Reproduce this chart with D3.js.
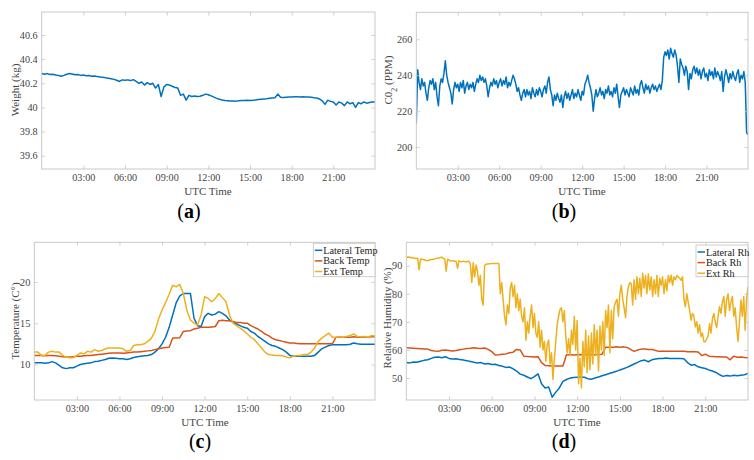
<!DOCTYPE html>
<html><head><meta charset="utf-8">
<script src="https://cdn.jsdelivr.net/npm/d3@7"></script>
<style>body{margin:0;background:#fff}svg{display:block}text{font-family:'Liberation Serif','Times New Roman',serif}</style>
</head><body>
<svg id="chart" width="754" height="460"></svg>
<script>
// ---------- tick labels ----------
const hourTicks = [3, 6, 9, 12, 15, 18, 21];
const hourTickLabels = ["03:00", "06:00", "09:00", "12:00", "15:00", "18:00", "21:00"];
const weightTicks = [39.6, 39.8, 40, 40.2, 40.4, 40.6];
const weightTickLabels = ["39.6", "39.8", "40", "40.2", "40.4", "40.6"];
const co2Ticks = [200, 220, 240, 260];
const co2TickLabels = ["200", "220", "240", "260"];
const tempTicks = [10, 15, 20];
const tempTickLabels = ["10", "15", "20"];
const rhTicks = [50, 60, 70, 80, 90];
const rhTickLabels = ["50", "60", "70", "80", "90"];

// ---------- series ----------
// weight (kg), every 0.2 h
const weightKg = [
40.28,40.275,40.28,40.272,40.275,40.268,40.265,40.258,40.265,40.275,
40.28,40.276,40.27,40.272,40.265,40.268,40.262,40.264,40.258,40.26,
40.255,40.252,40.25,40.245,40.242,40.238,40.232,40.225,40.215,40.228,
40.225,40.228,40.222,40.23,40.215,40.2,40.21,40.185,40.205,40.19,
40.2,40.16,40.19,40.09,40.17,40.19,40.185,40.175,40.165,40.16,
40.1,40.11,40.06,40.1,40.09,40.095,40.09,40.092,40.1,40.11,
40.105,40.095,40.085,40.075,40.068,40.062,40.058,40.056,40.054,40.053,
40.052,40.055,40.057,40.058,40.06,40.058,40.06,40.062,40.065,40.068,
40.07,40.072,40.075,40.078,40.08,40.11,40.085,40.083,40.085,40.086,
40.087,40.088,40.088,40.087,40.088,40.087,40.086,40.085,40.08,40.078,
40.07,40.055,40.025,40.06,40.05,40.045,40.02,40.045,40.035,40.015,
40.045,40.03,40.04,40.0,40.04,40.03,40.045,40.035,40.04,40.045,40.045];

// CO2 (ppm), every 0.1 h
const co2Ppm = [
213,243,236,232,238,234,236,230,226,233,
237,235,238,232,236,228,223,234,238,236,
241,248,240,236,233,230,224,232,236,233,
235,231,236,233,237,230,234,236,232,235,
233,236,231,235,238,236,240,237,239,236,
238,234,228,233,236,234,238,235,237,233,
236,238,234,237,235,239,233,236,234,237,
240,238,235,231,233,229,226,230,232,228,
232,229,231,227,233,230,228,232,229,233,
231,228,232,234,230,236,239,232,229,223,
229,226,230,227,225,229,222,228,231,227,
230,226,229,232,227,230,228,232,229,226,
231,229,235,237,240,236,233,229,220,227,
232,228,230,233,229,231,227,232,230,234,
229,231,228,233,230,235,228,222,229,231,
233,229,232,230,228,233,231,229,234,230,
232,229,235,237,233,230,235,232,234,230,
233,235,232,234,231,233,235,232,237,250,
253,251,254,249,255,252,250,254,251,245,
236,249,246,244,240,245,242,232,241,238,
243,245,241,244,240,243,238,242,244,239,
241,237,243,240,242,238,244,239,242,240,
237,242,231,239,243,240,236,241,238,242,
239,237,241,243,236,240,238,242,236,208,207];

// temperatures (°C), every 0.25 h
const lateralTemp = [
10.2,10.2,10.2,10.15,10.2,10.35,10.2,9.9,9.6,9.5,9.6,9.6,
9.8,10.0,10.1,10.15,10.2,10.35,10.4,10.5,10.6,10.75,10.8,10.75,
10.7,10.7,10.6,10.7,10.85,10.95,11.0,11.05,11.1,11.2,11.5,11.9,
12.5,13.3,14.5,16.0,17.5,18.3,18.6,18.6,18.6,15.6,14.7,14.6,
15.8,16.2,16.0,16.1,16.4,16.2,15.9,15.4,15.1,14.9,14.7,14.5,
14.4,14.0,13.8,13.4,13.1,12.8,12.5,12.3,12.2,12.0,11.8,11.5,
11.1,11.0,11.0,11.0,11.0,11.0,11.0,11.1,11.5,11.9,12.1,12.3,
12.4,12.4,12.4,12.4,12.4,12.45,12.6,12.5,12.45,12.45,12.45,12.45,12.45];
const backTemp = [
11.1,11.1,11.1,11.05,11.1,11.1,11.05,11.0,10.95,10.9,10.9,10.95,
11.0,11.0,11.05,11.1,11.1,11.15,11.2,11.25,11.3,11.35,11.4,11.4,
11.4,11.35,11.4,11.45,11.5,11.5,11.55,11.6,11.65,11.7,11.8,11.9,
12.0,12.05,12.1,13.2,13.2,13.25,14.0,14.05,14.1,14.3,14.4,14.5,
14.5,14.5,14.55,14.6,15.3,15.35,15.3,15.3,15.2,15.1,15.1,15.0,
15.0,14.7,14.5,14.3,14.0,13.7,13.5,13.2,13.0,12.9,12.8,12.7,
12.6,12.6,12.55,12.5,12.5,12.5,12.5,12.5,12.5,12.5,12.5,12.5,
12.5,13.3,13.3,13.3,13.3,13.3,13.35,13.3,13.3,13.3,13.3,13.35,13.35];
const extTemp = [
11.5,11.5,11.1,11.1,11.5,11.6,11.5,11.5,11.1,10.9,10.8,10.85,
11.1,11.4,11.3,11.6,11.5,11.8,11.6,11.7,11.9,12.0,12.0,12.0,
12.0,11.9,11.6,11.7,12.3,12.4,12.4,12.5,12.8,13.2,14.0,15.5,
16.6,17.5,18.5,19.6,19.4,19.7,18.6,16.5,15.4,15.0,14.8,16.0,
18.2,18.0,17.6,18.0,18.6,18.1,17.6,16.0,15.0,14.7,14.4,14.1,
13.7,13.3,13.0,12.5,12.0,11.5,11.2,11.15,11.1,11.1,11.05,10.9,
10.8,11.0,11.1,11.1,11.2,11.2,11.5,12.0,12.8,13.2,13.5,13.8,
13.3,13.3,13.35,13.3,13.4,13.5,13.7,13.4,13.35,13.4,13.3,13.5,13.45];

// relative humidity (%), lateral/back every 0.25 h, ext every 0.1 h
const lateralRh = [
55.5,55.4,55.7,55.6,56.0,56.3,56.5,57.0,57.4,57.5,57.2,57.6,
57.0,56.8,56.9,56.6,56.4,56.2,55.9,55.6,55.4,55.5,55.0,55.2,
54.8,54.9,54.5,54.2,53.8,53.9,53.3,52.5,51.4,51.0,50.4,49.8,
50.5,51.5,48.0,46.5,46.8,43.2,45.0,46.5,48.8,49.5,50.0,50.2,
50.3,50.4,50.3,49.8,49.6,50.0,50.4,50.8,51.2,51.6,52.0,52.4,
52.9,53.3,53.8,54.4,55.0,55.6,56.2,56.4,55.8,56.5,56.8,57.0,
57.0,57.1,57.0,57.0,57.0,57.0,56.9,55.5,54.6,54.8,54.0,53.7,
53.4,52.9,52.5,52.0,51.2,50.6,50.9,50.7,51.0,50.8,51.0,51.2,51.6];
const backRh = [
60.8,60.7,60.6,60.5,60.4,60.3,60.3,59.8,59.6,59.5,59.9,60.0,
59.8,59.6,59.8,60.1,60.3,60.5,60.6,60.8,60.6,60.5,60.7,60.2,
59.4,58.2,58.3,58.5,58.6,59.0,59.2,60.2,60.0,57.8,57.7,57.6,
57.5,57.6,55.5,54.5,54.4,54.3,54.3,54.3,54.3,58.3,58.3,58.2,
58.3,58.4,58.3,58.3,58.4,58.3,58.4,58.5,61.0,61.0,61.0,61.1,
61.0,61.1,60.9,60.2,59.5,60.0,60.3,60.3,60.2,60.2,59.8,59.5,
59.5,59.5,59.5,59.5,59.5,59.5,59.5,59.4,59.4,59.4,59.3,58.0,
58.5,57.8,57.7,57.6,57.6,57.5,57.5,56.5,57.8,57.4,57.5,57.3,57.2];
const extRh = [
93.2,93.0,93.1,92.8,92.9,92.7,92.6,92.5,92.6,88.5,
92.4,92.3,92.2,92.0,91.8,91.7,92.0,92.1,92.2,92.3,
92.4,92.5,92.6,92.7,92.9,93.0,92.6,92.4,88.0,92.3,
92.0,91.6,91.7,91.8,91.5,91.6,89.0,91.7,91.5,91.4,
91.6,91.5,91.3,91.5,91.6,90.5,84.0,91.0,86.0,90.2,
88.0,83.0,86.5,78.0,76.0,90.0,90.5,90.6,90.7,90.7,
90.8,90.8,90.8,90.8,90.8,90.8,80.0,84.0,78.0,72.0,
69.0,76.0,73.0,82.0,84.0,79.0,83.0,75.0,80.0,74.0,
78.0,72.0,70.0,75.0,63.5,70.0,66.0,72.0,76.0,68.0,
73.0,66.0,64.5,70.0,61.0,67.0,60.0,63.0,56.0,62.0,
63.5,55.0,59.0,49.5,57.0,63.0,69.0,72.0,74.5,75.0,
70.0,74.0,65.0,59.0,64.0,58.0,67.0,62.0,72.0,60.0,
70.5,48.0,57.0,46.5,63.0,54.0,67.0,52.0,65.0,53.0,
66.0,55.0,69.0,58.0,67.0,52.5,68.5,60.0,70.0,58.0,
74.0,68.0,76.0,59.0,74.0,64.0,75.5,77.0,78.0,72.0,
80.0,83.0,78.0,75.0,71.5,79.0,82.5,84.0,83.5,76.0,
85.0,78.0,86.0,80.0,85.5,79.0,87.3,82.0,86.5,80.0,
87.0,81.3,86.0,79.0,85.0,80.0,86.5,79.0,85.5,83.0,
86.0,80.0,85.0,81.0,86.5,84.0,86.6,83.0,86.0,85.0,
86.5,86.0,85.5,84.8,86.0,78.0,75.4,80.0,77.0,74.0,
70.6,73.0,72.0,68.2,70.0,66.0,69.0,64.7,66.0,63.0,
62.9,64.0,65.0,69.4,66.0,71.0,73.0,70.0,68.0,72.0,
75.4,73.0,77.0,79.0,72.0,78.0,80.0,74.0,77.0,79.0,
72.0,75.0,68.0,63.0,70.0,77.8,72.0,79.0,67.0,78.0,82.5];

const tempNames = ["Lateral Temp", "Back Temp", "Ext Temp"];
const rhNames = ["Lateral Rh", "Back Rh", "Ext Rh"];
const seriesColors = ["#0072BD", "#D95319", "#EDB120"];

// ---------- drawing ----------
const svg = d3.select("#chart");
const FONT = "'Liberation Serif','Times New Roman',serif";
const BOX = "#c4c4c4";
const TXT = "#444";

function hoursFor(values) {
  const step = 24 / (values.length - 1);
  return values.map((v, i) => ({ h: i * step, v }));
}

function panel(cfg) {
  const x = d3.scaleLinear().domain([0, 24]).range([cfg.left, cfg.right]);
  const y = d3.scaleLinear().domain(cfg.yDomain).range([cfg.bottom, cfg.top]);
  const g = svg.append("g");

  const clipId = "clip" + cfg.id;
  g.append("clipPath").attr("id", clipId).append("rect")
    .attr("x", cfg.left).attr("y", cfg.top)
    .attr("width", cfg.right - cfg.left).attr("height", cfg.bottom - cfg.top);

  const line = d3.line().x(d => x(d.h)).y(d => y(d.v));
  cfg.series.forEach((s, i) => {
    g.append("path").datum(hoursFor(s))
      .attr("d", line).attr("fill", "none")
      .attr("stroke", cfg.colors[i]).attr("stroke-width", 1.5)
      .attr("stroke-linejoin", "round")
      .attr("clip-path", `url(#${clipId})`);
  });

  const tl = 3.5;
  const xAxisB = d3.axisBottom(x).tickValues(hourTicks).tickFormat((d, i) => hourTickLabels[i]).tickSizeInner(-tl).tickSizeOuter(0).tickPadding(4.5);
  const xAxisT = d3.axisTop(x).tickValues(hourTicks).tickFormat("").tickSizeInner(-tl).tickSizeOuter(0);
  const yAxisL = d3.axisLeft(y).tickValues(cfg.yTicks).tickFormat((d, i) => cfg.yTickLabels[i]).tickSizeInner(-tl).tickSizeOuter(0).tickPadding(4);
  const yAxisR = d3.axisRight(y).tickValues(cfg.yTicks).tickFormat("").tickSizeInner(-tl).tickSizeOuter(0);

  const axes = [
    g.append("g").attr("transform", `translate(0,${cfg.bottom})`).call(xAxisB),
    g.append("g").attr("transform", `translate(0,${cfg.top})`).call(xAxisT),
    g.append("g").attr("transform", `translate(${cfg.left},0)`).call(yAxisL),
    g.append("g").attr("transform", `translate(${cfg.right},0)`).call(yAxisR)
  ];
  axes.forEach(a => {
    a.attr("font-family", FONT);
    a.select(".domain").remove();
    a.selectAll(".tick line").attr("stroke", BOX).attr("stroke-width", 0.8);
    a.selectAll(".tick text").attr("fill", TXT).style("font-family", FONT).attr("font-size", 10.2);
  });

  g.append("rect").attr("x", cfg.left).attr("y", cfg.top)
    .attr("width", cfg.right - cfg.left).attr("height", cfg.bottom - cfg.top)
    .attr("fill", "none").attr("stroke", BOX).attr("stroke-width", 0.9);

  g.append("text").attr("x", cfg.xLabelX).attr("y", cfg.bottom + 25.5)
    .attr("text-anchor", "middle").style("font-family", FONT).attr("font-size", 11)
    .attr("fill", TXT).text("UTC Time");

  const yl = g.append("text")
    .attr("transform", `translate(${cfg.yLabelX},${cfg.yLabelY}) rotate(-90)`)
    .attr("text-anchor", "middle").style("font-family", FONT).attr("font-size", 11)
    .attr("fill", TXT);
  cfg.yLabel.forEach(part => {
    const t = yl.append("tspan").text(part.t);
    if (part.sub) t.attr("baseline-shift", "sub").attr("font-size", 8);
  });

  const cap = g.append("text").attr("x", cfg.capX).attr("y", cfg.capY)
    .attr("text-anchor", "middle").style("font-family", FONT).attr("font-size", 20)
    .attr("fill", "#000");
  cap.append("tspan").text("(");
  cap.append("tspan").attr("font-weight", "bold").text(cfg.cap);
  cap.append("tspan").text(")");

  if (cfg.legend) {
    const L = cfg.legend;
    const lg = g.append("g");
    lg.append("rect").attr("x", L.x).attr("y", L.y).attr("width", L.w).attr("height", L.h)
      .attr("fill", "#fff").attr("stroke", BOX).attr("stroke-width", 0.8);
    L.names.forEach((n, i) => {
      const yy = L.y + 7 + i * 10.6;
      lg.append("line").attr("x1", L.x + 1.5).attr("x2", L.x + 9)
        .attr("y1", yy).attr("y2", yy).attr("stroke", cfg.colors[i]).attr("stroke-width", 1.5);
      lg.append("text").attr("x", L.x + 10).attr("y", yy + 3.5)
        .style("font-family", FONT).attr("font-size", 10.2).attr("fill", "#222").text(n);
    });
  }
}

panel({ id: "a", left: 41.7, right: 375, top: 12, bottom: 169,
  yDomain: [39.49, 40.79], yTicks: weightTicks, yTickLabels: weightTickLabels,
  series: [weightKg], colors: [seriesColors[0]],
  xLabelX: 208, yLabelX: 19, yLabelY: 90, yLabel: [{ t: "Weight (kg)" }],
  capX: 189, capY: 217.5, cap: "a" });

panel({ id: "b", left: 416.3, right: 748, top: 12.3, bottom: 169,
  yDomain: [187.8, 275], yTicks: co2Ticks, yTickLabels: co2TickLabels,
  series: [co2Ppm], colors: [seriesColors[0]],
  xLabelX: 582, yLabelX: 391.5, yLabelY: 80, yLabel: [{ t: "C0" }, { t: "2", sub: true }, { t: " (PPM)" }],
  capX: 564, capY: 217.5, cap: "b" });

panel({ id: "c", left: 34.3, right: 375, top: 242.3, bottom: 400,
  yDomain: [5.7, 24.8], yTicks: tempTicks, yTickLabels: tempTickLabels,
  series: [lateralTemp, backTemp, extTemp], colors: seriesColors,
  xLabelX: 205, yLabelX: 18.5, yLabelY: 321, yLabel: [{ t: "Temperature (C°)" }],
  capX: 200, capY: 447.5, cap: "c",
  legend: { x: 313.3, y: 243.3, w: 61.7, h: 33.4, names: tempNames } });

panel({ id: "d", left: 406.3, right: 748, top: 242.3, bottom: 400,
  yDomain: [42.2, 98.3], yTicks: rhTicks, yTickLabels: rhTickLabels,
  series: [lateralRh, backRh, extRh], colors: seriesColors,
  xLabelX: 577, yLabelX: 390.5, yLabelY: 318, yLabel: [{ t: "Relative Humidity (%)" }],
  capX: 564, capY: 447.5, cap: "d",
  legend: { x: 696, y: 245, w: 52, h: 31.7, names: rhNames } });
</script>
</body></html>
